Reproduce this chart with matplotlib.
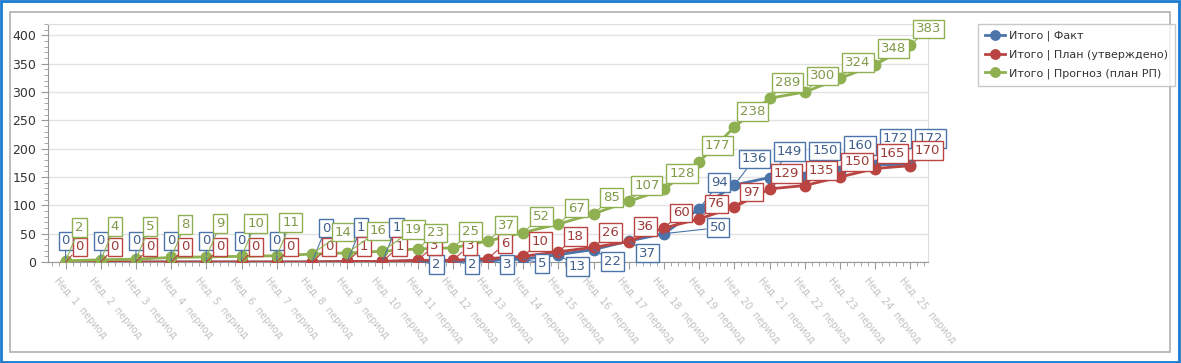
import numpy as np
import matplotlib.pyplot as plt
from matplotlib.patches import Rectangle
from matplotlib.ticker import MultipleLocator

# cumulative totals per period
fact = [0, 0, 0, 0, 0, 0, 0, 0, 1, 1, 2, 2, 3, 5, 13, 22, 37, 50, 94, 136, 149, 150, 160, 172, 172]
plan = [0, 0, 0, 0, 0, 0, 0, 0, 1, 1, 3, 3, 6, 10, 18, 26, 36, 60, 76, 97, 129, 135, 150, 165, 170]
forecast = [2, 4, 5, 8, 9, 10, 11, 14, 16, 19, 23, 25, 37, 52, 67, 85, 107, 128, 177, 238, 289, 300, 324, 348, 383]
# x labels are blurred in the source picture
periods = ["Нед. %d  период" % (i + 1) for i in range(len(fact))]
names = ["Итого | Факт", "Итого | План (утверждено)", "Итого | Прогноз (план РП)"]

c_blue, c_red, c_green = "#4a74aa", "#b94441", "#8fb050"
t_blue, t_red, t_green = "#3f5f8c", "#9c3b38", "#7f9a48"

fig = plt.figure(figsize=(11.81, 3.63), dpi=100)
ax = fig.add_axes([48 / 1181, 1 - 262 / 363, 880 / 1181, 238 / 363])

x = np.arange(len(fact))
ax.plot(x, fact, color=c_blue, lw=2, marker="o", ms=7.5, label=names[0], zorder=3)
ax.plot(x, plan, color=c_red, lw=2, marker="o", ms=7.5, label=names[1], zorder=4)
ax.plot(x, forecast, color=c_green, lw=2, marker="o", ms=7.5, label=names[2], zorder=5)


def put(i, v, dx, dy, ec, tc):
    ax.annotate(str(v), xy=(i, v), xytext=(dx, dy), textcoords="offset pixels",
                ha="center", va="center", fontsize=9.5, color=tc, zorder=10,
                bbox=dict(boxstyle="square,pad=0.22", fc="white", ec=ec, lw=1),
                arrowprops=dict(arrowstyle="-", color=ec, lw=0.8, shrinkA=0, shrinkB=0),
                annotation_clip=False)


for i in x:
    # blue
    if i <= 6:
        d = (0, 21)
    elif i <= 9:
        d = (14, 34)
    elif i == 17:
        d = (54, 6)
    elif i <= 16:
        d = (19, -4) if i < 14 else (19, -12)
    else:
        d = (20, 26)
    put(i, fact[i], d[0], d[1], c_blue, t_blue)
    # red
    d = (14, 15) if i <= 6 else (17, 15)
    put(i, plan[i], d[0], d[1], c_red, t_red)
    # green
    if i <= 6:
        d = (14, 33)
    elif i <= 9:
        d = (31, 22)
    else:
        d = (18, 16)
    put(i, forecast[i], d[0], d[1], c_green, t_green)

ax.set_xlim(-0.5, len(fact) - 0.5)
ax.set_ylim(0, 420)
ax.yaxis.set_major_locator(MultipleLocator(50))
ax.yaxis.set_minor_locator(MultipleLocator(10))
ax.xaxis.set_major_locator(MultipleLocator(1))
ax.xaxis.set_minor_locator(MultipleLocator(0.2))
ax.grid(axis="y", color="#e2e2e2", lw=1)
ax.set_axisbelow(True)
ax.tick_params(axis="both", which="major", length=5, color="#999999", labelsize=9, labelcolor="#333333")
ax.tick_params(axis="both", which="minor", length=3, color="#999999")
ax.set_xticklabels([])
for s in ["top", "right"]:
    ax.spines[s].set_color("#dddddd")
for s in ["left", "bottom"]:
    ax.spines[s].set_color("#999999")

for i, p in enumerate(periods):
    ax.annotate(p, xy=(i, 0), xytext=(-6, -14), textcoords="offset pixels",
                rotation=-50, rotation_mode="anchor", ha="left", va="top",
                fontsize=7, color="#c2c2c2", annotation_clip=False)

fig.legend(loc="upper left", bbox_to_anchor=(978 / 1181, 1 - 24 / 363), fontsize=8,
           frameon=True, fancybox=False, edgecolor="#bbbbbb", labelcolor="#333333",
           handlelength=1.8, handletextpad=0.4, borderpad=0.6, labelspacing=0.75,
           markerscale=0.9, borderaxespad=0)

fig.patches.append(Rectangle((10 / 1181, 1 - 352 / 363), 1160 / 1181, 340 / 363,
                             transform=fig.transFigure, fill=False, ec="#b0b0b0", lw=1.2))
fig.patches.append(Rectangle((0.001, 0.002), 0.997, 0.995, transform=fig.transFigure,
                             fill=False, ec="#1a7bd0", lw=2))

fig.savefig("out.png", dpi=100)
